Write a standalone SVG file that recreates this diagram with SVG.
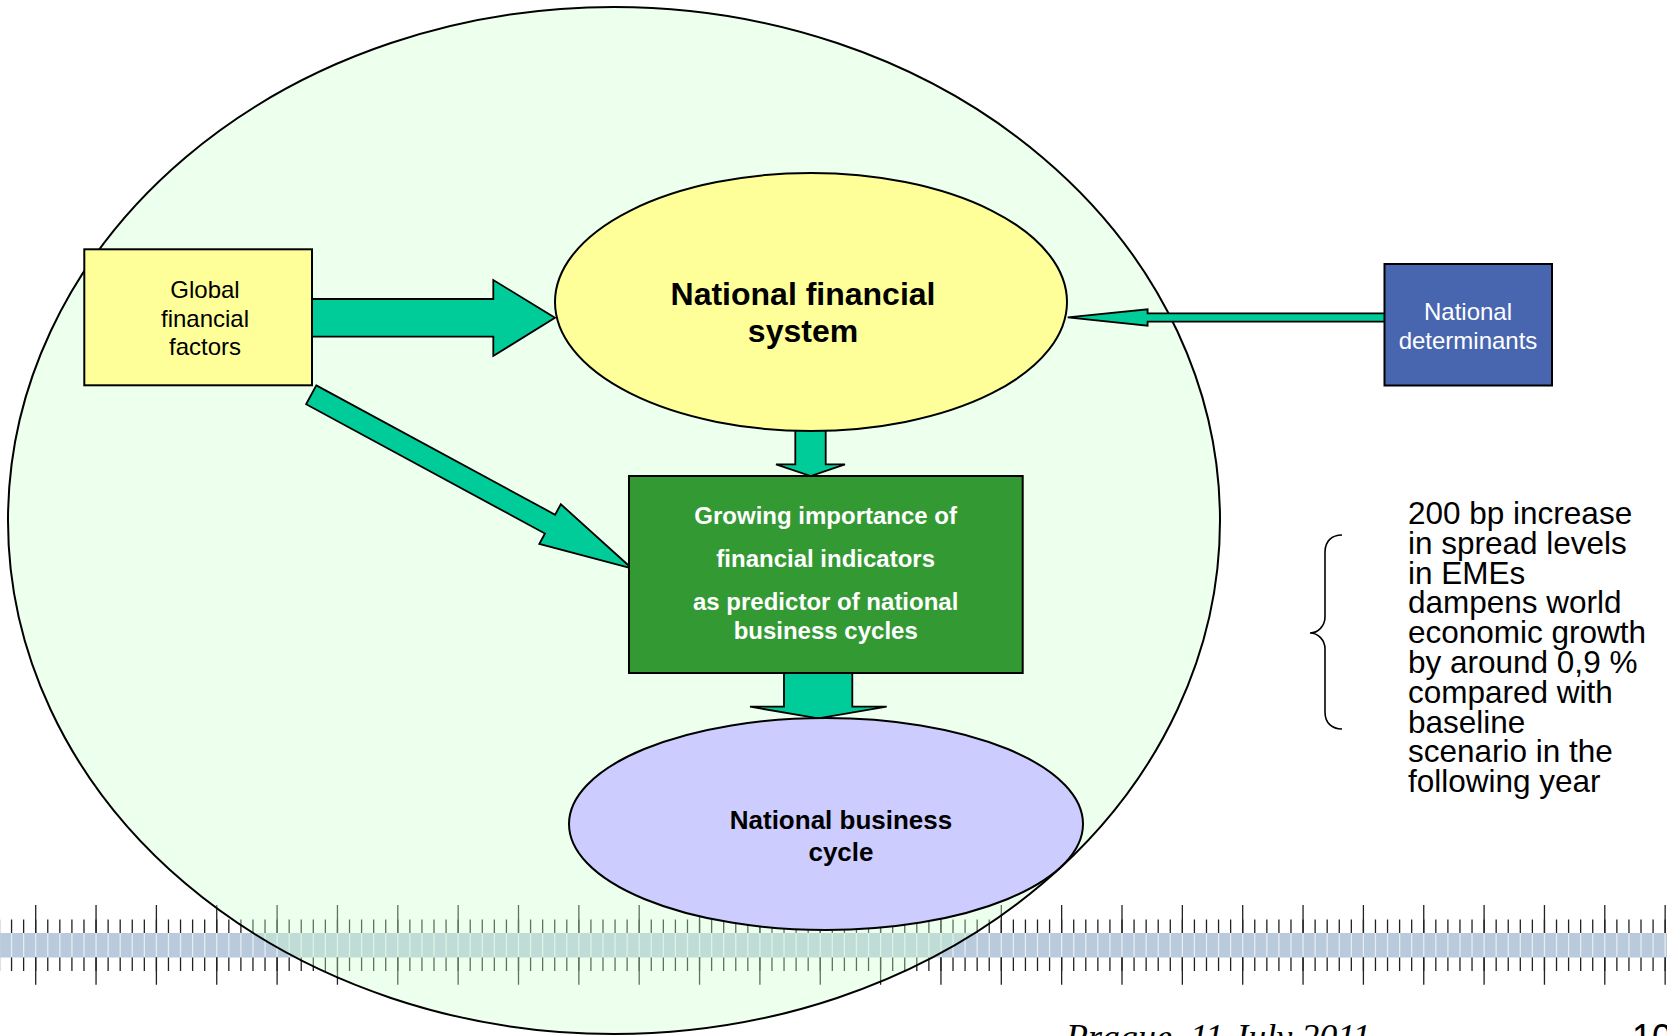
<svg xmlns="http://www.w3.org/2000/svg" width="1667" height="1036" viewBox="0 0 1667 1036">
<style>
.arrow{fill:#00cc99;stroke:#000;stroke-width:1.8;stroke-linejoin:miter}
.node{stroke:#000;stroke-width:2}
.t{font-family:"Liberation Sans",Arial,sans-serif;text-anchor:middle}
.tick{stroke:#222;fill:none}
</style>
<rect x="0" y="0" width="1667" height="1036" fill="#fff"/>
<g id="ruler">
<rect x="0" y="933" width="1667" height="24.5" fill="#b8cadb"/>
<line x1="-1.16" y1="945" x2="1667" y2="945" stroke="#f0f4f8" stroke-opacity="0.8" stroke-width="24.5" stroke-dasharray="1.3 10.77"/>
<line class="tick" x1="-1.16" y1="926.3" x2="1667" y2="926.3" stroke-width="13.4" stroke-dasharray="1.3 10.77"/>
<line class="tick" x1="-1.16" y1="964.2" x2="1667" y2="964.2" stroke-width="13.6" stroke-dasharray="1.3 10.77"/>
<line class="tick" x1="35.05" y1="919" x2="1667" y2="919" stroke-width="28" stroke-dasharray="1.3 59.05"/>
<line class="tick" x1="35.05" y1="971" x2="1667" y2="971" stroke-width="27.5" stroke-dasharray="1.3 59.05"/>
</g>
<g id="outer-system">
<ellipse cx="614" cy="520.5" rx="606" ry="513.5" fill="#ccffcc" fill-opacity="0.36" stroke="#000" stroke-width="2"/>
</g>
<g id="connectors">
<polygon class="arrow" points="312,299 493.3,299 493.3,280 555,317.7 493.3,356 493.3,336.7 312,336.7"/>
<polygon class="arrow" transform="translate(311.2,394.8) rotate(28.43)" points="0,-10.7 271.6,-10.7 271.6,-22.6 364.4,0 271.6,22.6 271.6,10.7 0,10.7"/>
<polygon class="arrow" points="1386,313.3 1147.6,313.3 1147.6,309.3 1067.7,317.3 1147.6,325.7 1147.6,321.7 1386,321.7"/>
<polygon class="arrow" points="795.3,425 825.7,425 825.7,464.3 845,464.3 810.7,476 776,464.3 795.3,464.3"/>
<polygon class="arrow" points="784,668 852.3,668 852.3,706.7 886.7,706.7 818.3,718.3 750,706.7 784,706.7"/>
</g>
<g id="global-financial-factors">
<rect class="node" x="84.3" y="249.3" width="227.7" height="136" fill="#ffff99"/>
<text class="t" font-size="24" fill="#000"><tspan x="205" y="298">Global</tspan><tspan x="205" y="326.5">financial</tspan><tspan x="205" y="355">factors</tspan></text>
</g>
<g id="national-financial-system">
<ellipse class="node" cx="811" cy="302" rx="256" ry="129" fill="#ffff99"/>
<text class="t" font-size="32" font-weight="bold" fill="#000"><tspan x="803" y="305">National financial</tspan><tspan x="803" y="342">system</tspan></text>
</g>
<g id="national-determinants">
<rect class="node" x="1384.5" y="264" width="167.5" height="121.5" fill="#4866b0"/>
<text class="t" font-size="24" fill="#fff"><tspan x="1468" y="320">National</tspan><tspan x="1468" y="348.5">determinants</tspan></text>
</g>
<g id="growing-importance">
<rect class="node" x="629" y="476" width="393.7" height="197" fill="#339933"/>
<text class="t" font-size="24" font-weight="bold" fill="#fff"><tspan x="825.7" y="524">Growing importance of</tspan><tspan x="825.7" y="567">financial indicators</tspan><tspan x="825.7" y="610">as predictor of national</tspan><tspan x="825.7" y="639">business cycles</tspan></text>
</g>
<g id="national-business-cycle">
<ellipse class="node" cx="826" cy="824" rx="257" ry="106" fill="#ccccff"/>
<text class="t" font-size="26" font-weight="bold" fill="#000"><tspan x="841" y="829">National business</tspan><tspan x="841" y="861">cycle</tspan></text>
</g>
<g id="note">
<path d="M1342,535 C1332,535 1325,541 1325,552 L1325,617 C1325,626 1318,633 1310,633 C1318,633 1325,640 1325,649 L1325,712 C1325,723 1332,729 1342,729" fill="none" stroke="#000" stroke-width="1.6"/>
<text font-family="Liberation Sans, Arial, sans-serif" font-size="31.5" fill="#000"><tspan x="1408" y="524">200 bp increase</tspan><tspan x="1408" y="553.8">in spread levels</tspan><tspan x="1408" y="583.6">in EMEs</tspan><tspan x="1408" y="613.4">dampens world</tspan><tspan x="1408" y="643.2">economic growth</tspan><tspan x="1408" y="673">by around 0,9 %</tspan><tspan x="1408" y="702.8">compared with</tspan><tspan x="1408" y="732.6">baseline</tspan><tspan x="1408" y="762.4">scenario in the</tspan><tspan x="1408" y="792.2">following year</tspan></text>
</g>
<g id="footer">
<text x="1066" y="1049" font-family="Liberation Serif, 'Times New Roman', serif" font-style="italic" font-size="36" fill="#000">Prague, 11 July 2011</text>
<text x="1632" y="1050" font-family="Liberation Sans, Arial, sans-serif" font-size="36" fill="#000">10</text>
</g>
</svg>
